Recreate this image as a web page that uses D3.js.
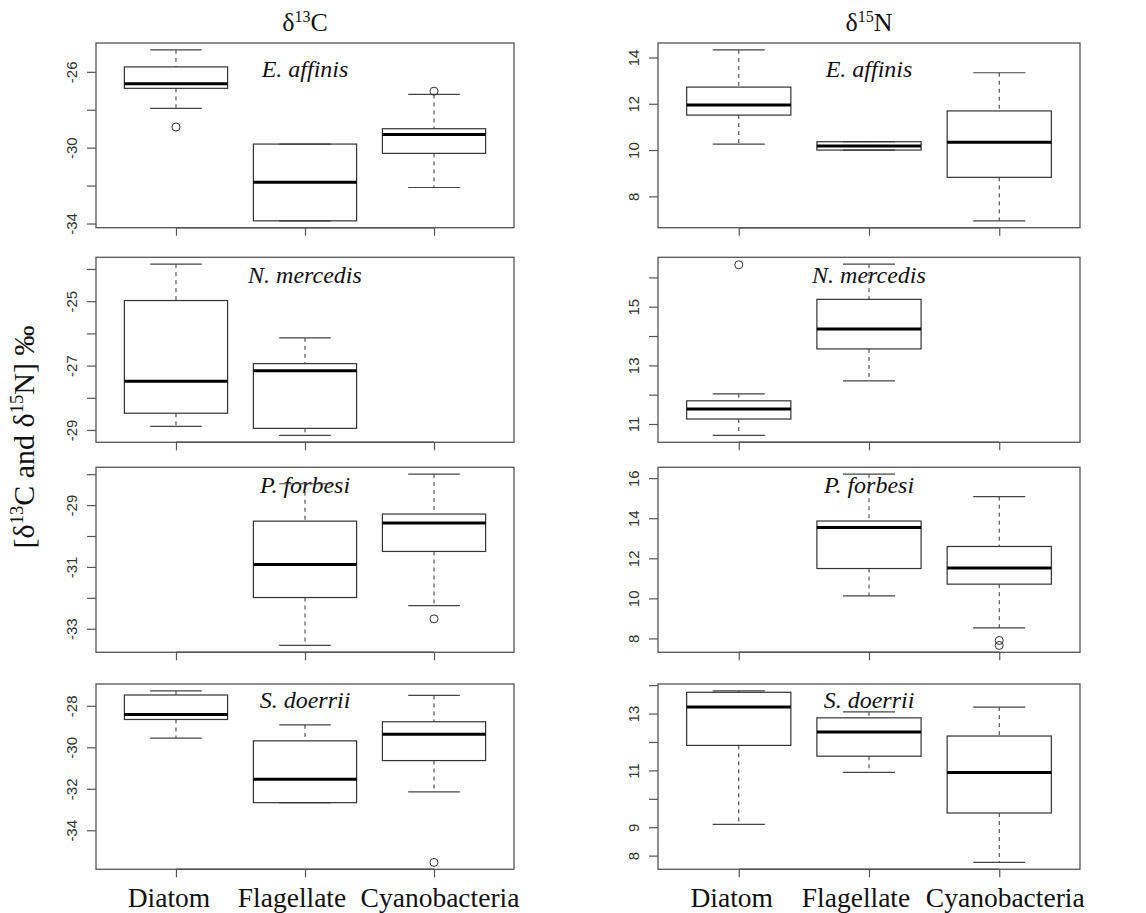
<!DOCTYPE html>
<html>
<head>
<meta charset="utf-8">
<script src="https://cdn.jsdelivr.net/npm/d3@7"></script>
<style>
  body { margin: 0; background: #fff; }
  svg { display: block; }
</style>
</head>
<body>
<script>
// groups on the x axis and the species shown in each row
const groups = ["Diatom", "Flagellate", "Cyanobacteria"];
const species = ["E. affinis", "N. mercedis", "P. forbesi", "S. doerrii"];

// box stats per species and group: [lower whisker, Q1, median, Q3, upper whisker], null = no samples
const c13Stats = [
  [[-27.93, -26.87, -26.63, -25.74, -24.84], [-33.86, -33.86, -31.82, -29.81, -29.81], [-32.1, -30.3, -29.3, -29.0, -27.19]],
  [[-28.89, -28.48, -27.49, -24.98, -23.85], [-29.17, -28.95, -27.16, -26.94, -26.14], null],
  [null, [-33.54, -31.99, -30.92, -29.52, -28.31], [-32.25, -30.5, -29.58, -29.29, -28.0]],
  [[-29.56, -28.66, -28.42, -27.48, -27.28], [-32.67, -32.67, -31.54, -29.69, -28.92], [-32.15, -30.64, -29.37, -28.77, -27.5]]
];
const c13Outliers = [
  [[-28.91], [], [-27.02]],
  [[], [], []],
  [[], [], [-32.68]],
  [[], [], [-35.55]]
];
const n15Stats = [
  [[10.26, 11.51, 11.95, 12.72, 14.33], [10.0, 10.0, 10.18, 10.36, 10.36], [6.94, 8.82, 10.34, 11.69, 13.34]],
  [[10.61, 11.17, 11.51, 11.79, 12.03], [12.47, 13.56, 14.24, 15.25, 16.45], null],
  [null, [10.12, 11.49, 13.54, 13.86, 16.2], [8.53, 10.71, 11.52, 12.59, 15.08]],
  [[9.10, 11.88, 13.23, 13.75, 13.8], [10.93, 11.5, 12.35, 12.85, 13.06], [7.76, 9.5, 10.93, 12.21, 13.23]]
];
const n15Outliers = [
  [[], [], []],
  [[16.43], [], []],
  [[], [], [7.9, 7.65]],
  [[], [], []]
];

// y tick labels that are printed (other ticks are left blank)
const c13TickLabels = [[-26, -30, -34], [-25, -27, -29], [-29, -31, -33], [-28, -30, -32, -34]];
const n15TickLabels = [[8, 10, 12, 14], [11, 13, 15], [8, 10, 12, 14, 16], [8, 9, 11, 13]];

const width = 1146, height = 913;
const colX = [[96, 514], [658, 1080]];
const rowTop = [43, 257.3, 467.3, 684];
const rowBottom = [227.7, 442.3, 652.3, 869.3];
const speciesDy = [34, 26, 26, 24];
const groupLabelShift = [-7, -13, 6];

const serif = "'Liberation Serif', 'Times New Roman', serif";
const sans = "'Liberation Sans', Arial, sans-serif";
const frameColor = "#555";
const boxColor = "#333";

const svg = d3.select("body").append("svg")
  .attr("width", width)
  .attr("height", height);

svg.append("rect").attr("width", width).attr("height", height).attr("fill", "#fff");

function superText(sel, parts, size) {
  // parts: [normal, sup, normal, sup, ...]
  parts.forEach((p, i) => {
    const t = sel.append("tspan").text(p);
    if (i % 2 === 1) {
      t.attr("font-size", size * 0.62).attr("dy", -size * 0.36);
    } else if (i > 0) {
      t.attr("dy", size * 0.36);
    }
  });
}

function drawPanel(row, col) {
  const stats = (col === 0 ? c13Stats : n15Stats)[row];
  const outs = (col === 0 ? c13Outliers : n15Outliers)[row];
  const labels = (col === 0 ? c13TickLabels : n15TickLabels)[row];
  const [left, right] = colX[col];
  const top = rowTop[row], bottom = rowBottom[row];

  const vals = [];
  stats.forEach(s => { if (s) vals.push(...s); });
  outs.forEach(o => vals.push(...o));
  const ext = d3.extent(vals);
  const pad = (ext[1] - ext[0]) * 0.04;

  const y = d3.scaleLinear().domain([ext[0] - pad, ext[1] + pad]).range([bottom, top]);
  const x = d3.scaleLinear().domain([0.5 - 0.12, groups.length + 0.5 + 0.12]).range([left, right]);
  const boxW = x(1.8) - x(1);
  const capW = boxW * 0.5;

  const g = svg.append("g");

  // y axis
  const yAxis = g.append("g")
    .attr("transform", `translate(${left},0)`)
    .call(d3.axisLeft(y).ticks(5).tickSize(9).tickSizeOuter(0)
      .tickFormat(d => labels.includes(d) ? d : ""));
  yAxis.select(".domain").remove();
  yAxis.selectAll("line").attr("stroke", frameColor).attr("stroke-width", 1.2);
  yAxis.selectAll("text")
    .attr("x", null).attr("dy", null)
    .attr("transform", "translate(-19.5,0) rotate(-90)")
    .attr("text-anchor", "middle")
    .attr("font-family", sans)
    .attr("font-size", 15)
    .attr("fill", "#333");

  // x axis
  const xAxis = g.append("g")
    .attr("transform", `translate(0,${bottom})`)
    .call(d3.axisBottom(x).tickValues(groups.map((d, i) => i + 1)).tickSize(8).tickSizeOuter(0).tickFormat(""));
  xAxis.select(".domain").remove();
  xAxis.selectAll("line").attr("stroke", frameColor).attr("stroke-width", 1.2);
  g.append("line")
    .attr("x1", x(1)).attr("x2", x(groups.length))
    .attr("y1", bottom).attr("y2", bottom)
    .attr("stroke", frameColor).attr("stroke-width", 1.4);

  // frame
  g.append("rect")
    .attr("x", left).attr("y", top)
    .attr("width", right - left).attr("height", bottom - top)
    .attr("fill", "none").attr("stroke", frameColor).attr("stroke-width", 1.3);

  // species label
  g.append("text")
    .attr("x", x(2)).attr("y", top + speciesDy[row])
    .attr("text-anchor", "middle")
    .attr("font-family", serif).attr("font-style", "italic")
    .attr("font-size", 24).attr("fill", "#111")
    .text(species[row]);

  // boxes
  stats.forEach((s, i) => {
    if (!s) return;
    const cx = x(i + 1);
    const b = g.append("g");
    b.append("line").attr("x1", cx).attr("x2", cx).attr("y1", y(s[4])).attr("y2", y(s[3]))
      .attr("stroke", boxColor).attr("stroke-width", 1).attr("stroke-dasharray", "4,4");
    b.append("line").attr("x1", cx).attr("x2", cx).attr("y1", y(s[1])).attr("y2", y(s[0]))
      .attr("stroke", boxColor).attr("stroke-width", 1).attr("stroke-dasharray", "4,4");
    [s[0], s[4]].forEach(v => {
      b.append("line").attr("x1", cx - capW / 2).attr("x2", cx + capW / 2)
        .attr("y1", y(v)).attr("y2", y(v))
        .attr("stroke", "#444").attr("stroke-width", 1.2);
    });
    b.append("rect")
      .attr("x", cx - boxW / 2).attr("y", y(s[3]))
      .attr("width", boxW).attr("height", Math.max(0.5, y(s[1]) - y(s[3])))
      .attr("fill", "none").attr("stroke", boxColor).attr("stroke-width", 1.2);
    b.append("line").attr("x1", cx - boxW / 2).attr("x2", cx + boxW / 2)
      .attr("y1", y(s[2])).attr("y2", y(s[2]))
      .attr("stroke", "#000").attr("stroke-width", 3);
    b.selectAll("circle").data(outs[i]).join("circle")
      .attr("cx", cx).attr("cy", d => y(d)).attr("r", 4)
      .attr("fill", "none").attr("stroke", boxColor).attr("stroke-width", 1);
  });

  // group labels on the bottom row
  if (row === species.length - 1) {
    groups.forEach((name, i) => {
      g.append("text")
        .attr("x", x(i + 1) + groupLabelShift[i]).attr("y", 907)
        .attr("text-anchor", "middle")
        .attr("font-family", serif).attr("font-size", 27.5).attr("fill", "#111")
        .text(name);
    });
  }
  return x;
}

let xLeft, xRight;
for (let r = 0; r < species.length; r++) {
  xLeft = drawPanel(r, 0);
  xRight = drawPanel(r, 1);
}

// column titles
const t1 = svg.append("text").attr("x", xLeft(2)).attr("y", 31)
  .attr("text-anchor", "middle").attr("font-family", serif).attr("font-size", 26).attr("fill", "#111");
superText(t1, ["δ", "13", "C"], 26);
const t2 = svg.append("text").attr("x", xRight(2)).attr("y", 31)
  .attr("text-anchor", "middle").attr("font-family", serif).attr("font-size", 26).attr("fill", "#111");
superText(t2, ["δ", "15", "N"], 26);

// y axis title
const yt = svg.append("text")
  .attr("transform", "translate(34,437) rotate(-90)")
  .attr("text-anchor", "middle").attr("font-family", serif).attr("font-size", 30).attr("fill", "#111");
superText(yt, ["[δ", "13", "C and δ", "15", "N] ‰"], 30);
</script>
</body>
</html>
